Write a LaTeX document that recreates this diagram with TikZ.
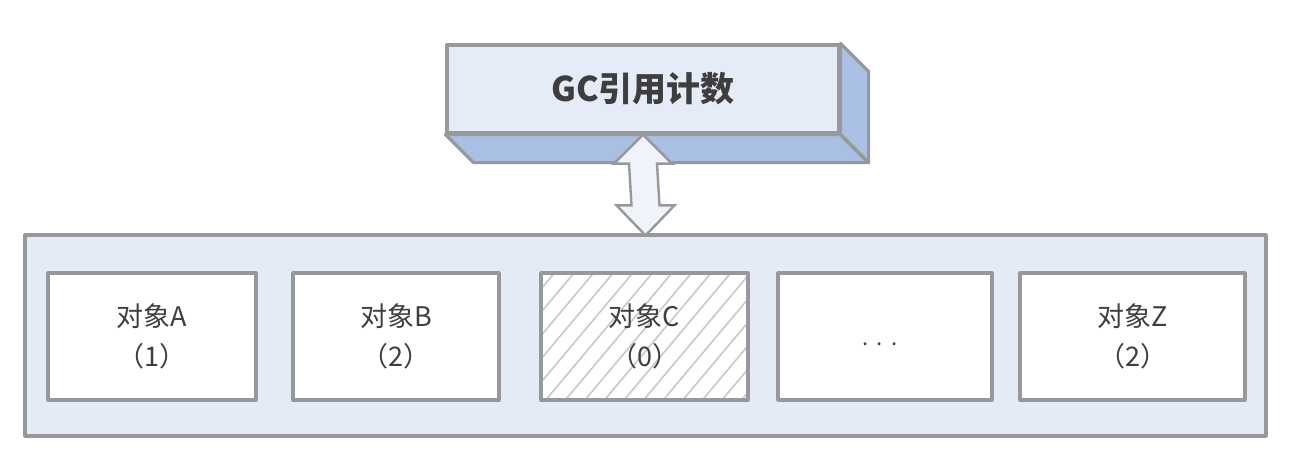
\documentclass[tikz,border=0pt]{standalone}
\usepackage{fontspec}
\setmainfont{Noto Sans CJK SC}
\usetikzlibrary{calc,patterns.meta}
\definecolor{edge}{HTML}{96989B}
\definecolor{faceL}{HTML}{E6ECF7}
\definecolor{faceD}{HTML}{A9BFE3}
\definecolor{heapfill}{HTML}{E4EBF6}
\definecolor{txt}{HTML}{3E3E3E}
\definecolor{hatch}{HTML}{C8C8C8}
\begin{document}
\begin{tikzpicture}[x=1pt,y=-1pt,
  edgeline/.style={draw=edge,line width=3.2pt,line join=round},
  frontface/.style={edgeline,fill=faceL,minimum width=392pt,minimum height=88pt,inner sep=0pt,
     text=txt,font=\fontsize{34}{40}\selectfont\bfseries},
  sideface/.style={edgeline,fill=faceD},
  heapbox/.style={edgeline,fill=heapfill,minimum width=1241pt,minimum height=201pt,inner sep=0pt},
  objbox/.style={edgeline,fill=white,minimum height=127pt,inner sep=0pt,align=center,
     text=txt,font=\fontsize{27}{40}\selectfont},
  objlabel/.style={align=center,text=txt,font=\fontsize{27}{40}\selectfont},
  arrowshape/.style={draw=edge,line width=2.4pt,fill=faceL!60!white,line join=miter}
]
\useasboundingbox (0,0) rectangle (1305,467);
% container
\node[heapbox] (heap) at (645.5,335.5) {};
% objects
\node[objbox,minimum width=208pt] (A) at (152,336.5) {对象A\\（1）};
\node[objbox,minimum width=206pt] (B) at (396,336.5) {对象B\\（2）};
\path[fill=white] (541,273) rectangle (748,400);
\fill[pattern={Lines[angle=50,distance=15pt,line width=1.6pt]},pattern color=hatch]
   (541,273) rectangle (748,400);
\node[edgeline,minimum width=207pt,minimum height=127pt,inner sep=0pt] (C) at (644.5,336.5) {};
\node[objlabel] (Ct) at (C.center) {对象C\\（0）};
\node[objbox,minimum width=214pt] (D) at (885,336.5) {};
\node[text=txt,font=\fontsize{22}{26}\selectfont] (Dt) at (880,344) {.\hspace{8pt}.\hspace{8pt}.};
\node[objbox,minimum width=225pt] (Z) at (1132.5,336.5) {对象Z\\（2）};
% 3D title box
\node[frontface] (gc) at (643,89) {GC引用计数};
\path[sideface] (gc.south west) -- (gc.south east) -- ++(28,28) -- ($(gc.south west)+(28,28)$) -- cycle;
\path[sideface] (gc.north east) -- ++(28,28) -- ($(gc.south east)+(28,28)$) -- (gc.south east) -- cycle;
\node[frontface] at (gc.center) {GC引用计数};
% double arrow
\coordinate (T) at (gc.south);
\coordinate (Bt) at ($(heap.north)+(0,2)$);
\path[arrowshape] (T) -- ++(29,29) -- ++(-15,0) -- ($(Bt)+(14,-30)$) -- ++(15,0) -- (Bt)
   -- ++(-29,-30) -- ++(15,0) -- ($(T)+(-14,29)$) -- ++(-15,0) -- cycle;
\end{tikzpicture}
\end{document}
